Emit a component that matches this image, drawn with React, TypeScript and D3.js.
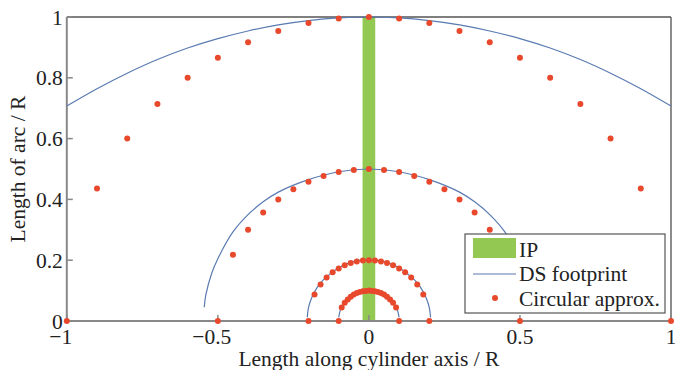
import React, { useRef, useEffect } from "react";
import * as d3 from "d3";

// circular approximation points, one list per radius (x, y)
const circleR100 = [
  [-1, 0], [-0.9, 0.436], [-0.8, 0.6], [-0.7, 0.714], [-0.6, 0.8], [-0.5, 0.866], [-0.4, 0.917],
  [-0.3, 0.954], [-0.2, 0.98], [-0.1, 0.995], [0, 1], [0.1, 0.995], [0.2, 0.98], [0.3, 0.954],
  [0.4, 0.917], [0.5, 0.866], [0.6, 0.8], [0.7, 0.714], [0.8, 0.6], [0.9, 0.436], [1, 0],
];
const circleR050 = [
  [-0.5, 0], [-0.45, 0.218], [-0.4, 0.3], [-0.35, 0.357], [-0.3, 0.4], [-0.25, 0.433], [-0.2, 0.458],
  [-0.15, 0.477], [-0.1, 0.49], [-0.05, 0.497], [0, 0.5], [0.05, 0.497], [0.1, 0.49], [0.15, 0.477],
  [0.2, 0.458], [0.25, 0.433], [0.3, 0.4], [0.35, 0.357], [0.4, 0.3], [0.45, 0.218], [0.5, 0],
];
const circleR020 = [
  [-0.2, 0], [-0.18, 0.087], [-0.16, 0.12], [-0.14, 0.143], [-0.12, 0.16], [-0.1, 0.173], [-0.08, 0.183],
  [-0.06, 0.191], [-0.04, 0.196], [-0.02, 0.199], [0, 0.2], [0.02, 0.199], [0.04, 0.196], [0.06, 0.191],
  [0.08, 0.183], [0.1, 0.173], [0.12, 0.16], [0.14, 0.143], [0.16, 0.12], [0.18, 0.087], [0.2, 0],
];
const circleR010 = [
  [-0.1, 0], [-0.09, 0.044], [-0.08, 0.06], [-0.07, 0.071], [-0.06, 0.08], [-0.05, 0.087], [-0.04, 0.092],
  [-0.03, 0.095], [-0.02, 0.098], [-0.01, 0.099], [0, 0.1], [0.01, 0.099], [0.02, 0.098], [0.03, 0.095],
  [0.04, 0.092], [0.05, 0.087], [0.06, 0.08], [0.07, 0.071], [0.08, 0.06], [0.09, 0.044], [0.1, 0],
];

// DS footprint curves
const footR100 = [
  [-1, 0.707], [-0.9, 0.764], [-0.8, 0.815], [-0.7, 0.86], [-0.6, 0.898], [-0.5, 0.929], [-0.4, 0.954],
  [-0.3, 0.974], [-0.2, 0.988], [-0.1, 0.997], [0, 1], [0.1, 0.997], [0.2, 0.988], [0.3, 0.974],
  [0.4, 0.954], [0.5, 0.929], [0.6, 0.898], [0.7, 0.86], [0.8, 0.815], [0.9, 0.764], [1, 0.707],
];
const footR050 = [
  [-0.545, 0.045], [-0.54, 0.085], [-0.52, 0.158], [-0.5, 0.205], [-0.45, 0.293], [-0.4, 0.35],
  [-0.35, 0.392], [-0.3, 0.424], [-0.2, 0.465], [-0.1, 0.491], [0, 0.5], [0.1, 0.491], [0.2, 0.465],
  [0.3, 0.424], [0.35, 0.392], [0.4, 0.35], [0.45, 0.293], [0.5, 0.205], [0.52, 0.158], [0.54, 0.085],
  [0.545, 0.045],
];
const footR020 = [
  [-0.204, 0.012], [-0.2, 0.044], [-0.19, 0.075], [-0.17, 0.112], [-0.15, 0.136], [-0.1, 0.175],
  [-0.05, 0.196], [0, 0.2], [0.05, 0.196], [0.1, 0.175], [0.15, 0.136], [0.17, 0.112], [0.19, 0.075],
  [0.2, 0.044], [0.204, 0.012],
];
const footR010 = [
  [-0.1, 0.012], [-0.095, 0.034], [-0.085, 0.054], [-0.07, 0.072], [-0.05, 0.087], [-0.025, 0.097],
  [0, 0.1], [0.025, 0.097], [0.05, 0.087], [0.07, 0.072], [0.085, 0.054], [0.095, 0.034], [0.1, 0.012],
];

const ipBand = { x0: -0.021, x1: 0.021, y0: 0, y1: 1 };

const xTicks = [-1, -0.5, 0, 0.5, 1];
const yTicks = [0, 0.2, 0.4, 0.6, 0.8, 1];

const legendItems = ["IP", "DS footprint", "Circular approx."];

const GREEN = "#93c952";
const BLUE = "#5a7bb2";
const RED = "#e8482b";
const FONT = "'Liberation Serif', 'DejaVu Serif', serif";

export default function App() {
  const svgRef = useRef<SVGSVGElement>(null);

  useEffect(() => {
    const svg = d3.select(svgRef.current);
    svg.selectAll("*").remove();

    const x = d3.scaleLinear().domain([-1, 1]).range([66.8, 671]);
    const y = d3.scaleLinear().domain([0, 1]).range([321, 17]);

    // IP band
    svg
      .append("rect")
      .attr("x", x(ipBand.x0))
      .attr("y", y(ipBand.y1))
      .attr("width", x(ipBand.x1) - x(ipBand.x0))
      .attr("height", y(ipBand.y0) - y(ipBand.y1))
      .attr("fill", GREEN);

    // frame
    const [x0, x1] = x.range();
    const [y0, y1] = y.range();
    svg.append("line").attr("x1", x0).attr("x2", x1).attr("y1", y1).attr("y2", y1)
      .attr("stroke", "#555").attr("stroke-width", 1.5);
    svg.append("line").attr("x1", x1).attr("x2", x1).attr("y1", y1).attr("y2", y0)
      .attr("stroke", "#666").attr("stroke-width", 1.5);
    svg.append("line").attr("x1", x0).attr("x2", x1).attr("y1", y0).attr("y2", y0)
      .attr("stroke", "#888").attr("stroke-width", 2);
    svg.append("line").attr("x1", x0).attr("x2", x0).attr("y1", y1).attr("y2", y0)
      .attr("stroke", "#888").attr("stroke-width", 2);

    // ticks (inward)
    svg.append("g").selectAll("line").data(xTicks).join("line")
      .attr("x1", (d) => x(d)).attr("x2", (d) => x(d))
      .attr("y1", y0).attr("y2", y0 - 6)
      .attr("stroke", "#888").attr("stroke-width", 1.5);
    svg.append("g").selectAll("line").data(yTicks).join("line")
      .attr("x1", x0).attr("x2", x0 + 6)
      .attr("y1", (d) => y(d)).attr("y2", (d) => y(d))
      .attr("stroke", "#888").attr("stroke-width", 1.5);

    const fs = 21.5;

    // y tick labels
    svg.append("g").selectAll("text").data(yTicks).join("text")
      .attr("x", x0 - 4)
      .attr("y", (d) => y(d))
      .attr("dy", "0.35em")
      .attr("text-anchor", "end")
      .attr("font-family", FONT)
      .attr("font-size", fs)
      .attr("fill", "#222")
      .text((d) => d3.format("")(d));

    // x tick labels: number centred, minus hangs left
    xTicks.forEach((d) => {
      const num = svg.append("text")
        .attr("x", x(d))
        .attr("y", 344)
        .attr("text-anchor", "middle")
        .attr("font-family", FONT)
        .attr("font-size", fs)
        .attr("fill", "#222")
        .text(String(Math.abs(d)));
      if (d < 0) {
        const w = (num.node() as SVGTextElement).getComputedTextLength();
        svg.append("text")
          .attr("x", x(d) - w / 2)
          .attr("y", 344)
          .attr("text-anchor", "end")
          .attr("font-family", FONT)
          .attr("font-size", fs)
          .attr("fill", "#222")
          .text("\u2212");
      }
    });

    // axis titles
    svg.append("text")
      .attr("x", (x0 + x1) / 2)
      .attr("y", 366)
      .attr("text-anchor", "middle")
      .attr("font-family", FONT)
      .attr("font-size", fs)
      .attr("fill", "#222")
      .text("Length along cylinder axis / R");
    svg.append("text")
      .attr("transform", `translate(25,${(y0 + y1) / 2}) rotate(-90)`)
      .attr("text-anchor", "middle")
      .attr("font-family", FONT)
      .attr("font-size", fs)
      .attr("fill", "#222")
      .text("Length of arc / R");

    // footprint curves
    const line = d3.line<number[]>()
      .x((d) => x(d[0]))
      .y((d) => y(d[1]))
      .curve(d3.curveCatmullRom);
    [footR100, footR050, footR020, footR010].forEach((c) => {
      svg.append("path").attr("d", line(c)).attr("fill", "none")
        .attr("stroke", BLUE).attr("stroke-width", 1.2);
    });

    // circular approximation dots
    [circleR100, circleR050, circleR020, circleR010].forEach((c) => {
      svg.append("g").selectAll("circle").data(c).join("circle")
        .attr("cx", (d) => x(d[0]))
        .attr("cy", (d) => y(d[1]))
        .attr("r", 3)
        .attr("fill", RED);
    });

    // legend
    const lg = svg.append("g").attr("transform", "translate(465,234)");
    lg.append("rect").attr("width", 200).attr("height", 79)
      .attr("fill", "white").attr("stroke", "#555").attr("stroke-width", 1.2);
    lg.append("rect").attr("x", 8).attr("y", 4).attr("width", 43).attr("height", 20).attr("fill", GREEN);
    lg.append("line").attr("x1", 8).attr("x2", 51).attr("y1", 40).attr("y2", 40)
      .attr("stroke", BLUE).attr("stroke-width", 1.2);
    lg.append("circle").attr("cx", 30).attr("cy", 64).attr("r", 3).attr("fill", RED);
    lg.selectAll("text.lab").data(legendItems).join("text")
      .attr("class", "lab")
      .attr("x", 54)
      .attr("y", (d, i) => 15 + i * 24.5)
      .attr("dy", "0.35em")
      .attr("font-family", FONT)
      .attr("font-size", fs)
      .attr("fill", "#222")
      .text((d) => d);
  }, []);

  return (
    <svg
      ref={svgRef}
      width={675}
      height={370}
      style={{ position: "absolute", left: 0, top: 0, background: "white" }}
    ></svg>
  );
}
